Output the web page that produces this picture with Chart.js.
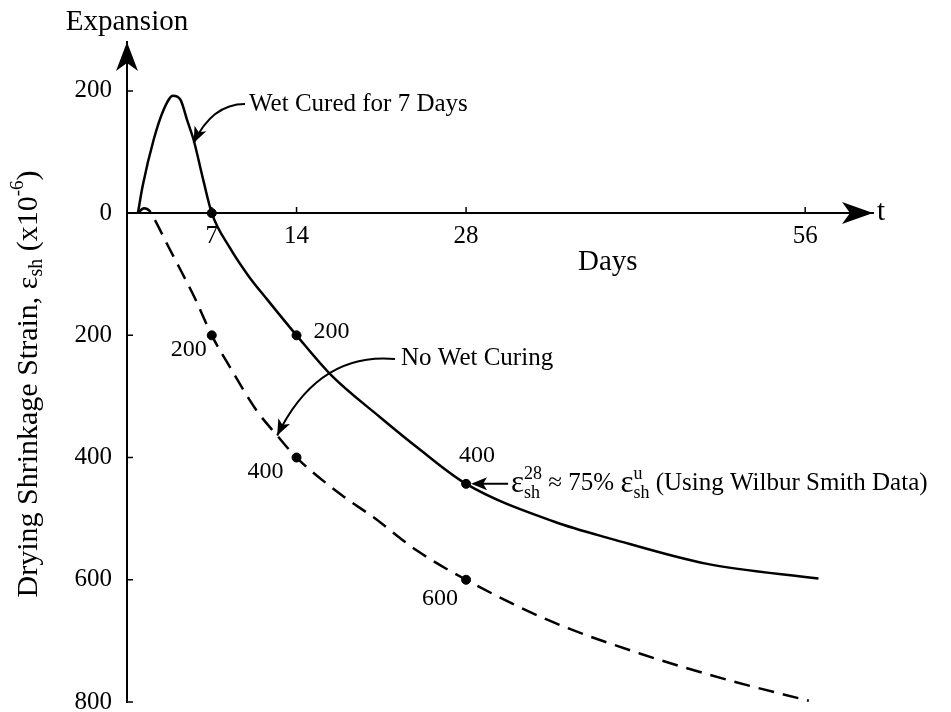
<!DOCTYPE html>
<html>
<head>
<meta charset="utf-8">
<script src="https://cdn.jsdelivr.net/npm/chart.js@4.4.1/dist/chart.umd.min.js"></script>
<style>
  html, body { margin: 0; padding: 0; background: #fff; }
</style>
</head>
<body>
<canvas id="chart" width="951" height="712"></canvas>
<script>
// Wet cured for 7 days (solid curve)
const wetDays   = [0.9, 1.3, 2.2, 3.0, 3.8, 4.4, 5.0, 5.5, 6.3, 7, 8.5, 10, 11.6, 14, 16.9, 20.9, 24, 28, 35.3, 40, 47.9, 57.1];
const wetStrain = [0, 45, 120, 168, 192, 186, 150, 120, 54, 0, -57, -102, -142, -200, -266, -334, -384, -443, -505, -533, -574, -598];

// No wet curing (dashed curve)
const dryDays   = [0.9, 1.4, 1.9, 2.3, 3.5, 4.5, 5.6, 7, 8.5, 10.7, 12.4, 14, 17.9, 20.3, 24, 28, 34.9, 42.4, 50, 56.3];
const dryStrain = [0, 8, 3, -11, -58, -96, -139, -200, -252, -323, -364, -400, -464, -497, -553, -600, -667, -721, -766, -798];

// marked points and their labels
const wetDotDays = [7, 14, 28];
const wetDotStrain = [0, -200, -443];
const wetDotLabels = ["", "200", "400"];
const dryDotDays = [7, 14, 28];
const dryDotStrain = [-200, -400, -600];
const dryDotLabels = ["200", "400", "600"];

// axis ticks
const dayTicks = [7, 14, 28, 56];
const strainTicks = [200, 0, -200, -400, -600, -800];

const FONT = "'Liberation Serif', 'Times New Roman', serif";
Chart.defaults.font.family = FONT;
Chart.defaults.color = "#000";

const toXY = (xs, ys) => xs.map((x, i) => ({ x: x, y: ys[i] }));

function arrowHead(ctx, tx, ty, ang, len, half, notch) {
    const dx = Math.cos(ang), dy = Math.sin(ang);
    const px = -dy, py = dx;
    ctx.beginPath();
    ctx.moveTo(tx, ty);
    ctx.lineTo(tx - len * dx + half * px, ty - len * dy + half * py);
    ctx.lineTo(tx - (len - notch) * dx, ty - (len - notch) * dy);
    ctx.lineTo(tx - len * dx - half * px, ty - len * dy - half * py);
    ctx.closePath();
    ctx.fill();
}

function curvedArrow(ctx, x0, y0, cx, cy, x1, y1) {
    ctx.beginPath();
    ctx.moveTo(x0, y0);
    ctx.quadraticCurveTo(cx, cy, x1, y1);
    ctx.stroke();
    arrowHead(ctx, x1, y1, Math.atan2(y1 - cy, x1 - cx), 16, 6.5, 4);
}

// draws pieces of text with sub/superscripts, left to right
function richText(ctx, x, y, parts) {
    ctx.textBaseline = "middle";
    ctx.textAlign = "left";
    for (const p of parts) {
        if (p.stack) {
            let w = 0;
            for (const s of p.stack) {
                ctx.font = s.size + "px " + FONT;
                ctx.fillText(s.t, x, y + s.dy);
                w = Math.max(w, ctx.measureText(s.t).width);
            }
            x += w;
        } else {
            ctx.font = p.size + "px " + FONT;
            ctx.fillText(p.t, x, y + (p.dy || 0));
            x += ctx.measureText(p.t).width;
        }
    }
    return x;
}

function richWidth(ctx, parts) {
    let w = 0;
    for (const p of parts) {
        if (p.stack) {
            let m = 0;
            for (const s of p.stack) {
                ctx.font = s.size + "px " + FONT;
                m = Math.max(m, ctx.measureText(s.t).width);
            }
            w += m;
        } else {
            ctx.font = p.size + "px " + FONT;
            w += ctx.measureText(p.t).width;
        }
    }
    return w;
}

const annotate = {
    id: "annotate",
    afterDraw(chart) {
        const ctx = chart.ctx;
        const xs = chart.scales.x, ys = chart.scales.y;
        const area = chart.chartArea;
        const x0 = xs.getPixelForValue(0), y0 = ys.getPixelForValue(0);
        ctx.save();
        ctx.fillStyle = "#000";
        ctx.strokeStyle = "#000";

        // axis arrows
        arrowHead(ctx, x0, area.top, -Math.PI / 2, 29, 11, 8);
        arrowHead(ctx, area.right, y0, 0, 31, 11, 8);

        // inward tick marks
        ctx.lineWidth = 1.5;
        ctx.beginPath();
        dayTicks.forEach(d => {
            const px = xs.getPixelForValue(d);
            ctx.moveTo(px, y0);
            ctx.lineTo(px, y0 - 6);
        });
        strainTicks.forEach(v => {
            const py = ys.getPixelForValue(v);
            ctx.moveTo(x0, py);
            ctx.lineTo(x0 + 6, py);
        });
        ctx.stroke();

        // axis captions
        ctx.textBaseline = "middle";
        ctx.textAlign = "center";
        ctx.font = "29px " + FONT;
        ctx.fillText("Expansion", x0, 22);
        ctx.fillText("Days", xs.getPixelForValue(39.7), y0 + 49);
        ctx.textAlign = "left";
        ctx.fillText("t", area.right + 4, y0 - 1);

        // y title, rotated
        const yTitle = [
            { t: "Drying Shrinkage Strain, ε", size: 30 },
            { t: "sh", size: 20, dy: 8 },
            { t: " (x10", size: 30 },
            { t: "-6", size: 19, dy: -11 },
            { t: ")", size: 30 }
        ];
        ctx.save();
        ctx.translate(29, 384);
        ctx.rotate(-Math.PI / 2);
        richText(ctx, -richWidth(ctx, yTitle) / 2, 0, yTitle);
        ctx.restore();

        // dot labels
        ctx.font = "24px " + FONT;
        ctx.textBaseline = "middle";
        const wetOff = [[0, 0], [17, -4], [-7, -28]];
        wetDotLabels.forEach((s, i) => {
            if (!s) return;
            ctx.textAlign = "left";
            ctx.fillText(s, xs.getPixelForValue(wetDotDays[i]) + wetOff[i][0], ys.getPixelForValue(wetDotStrain[i]) + wetOff[i][1]);
        });
        const dryOff = [[-5, 14], [-13, 14], [-8, 19]];
        dryDotLabels.forEach((s, i) => {
            ctx.textAlign = "right";
            ctx.fillText(s, xs.getPixelForValue(dryDotDays[i]) + dryOff[i][0], ys.getPixelForValue(dryDotStrain[i]) + dryOff[i][1]);
        });

        // callouts
        ctx.lineWidth = 2;
        ctx.font = "25px " + FONT;
        ctx.textAlign = "left";
        ctx.fillText("Wet Cured for 7 Days", 249, 104);
        curvedArrow(ctx, 245, 104, 212, 104, xs.getPixelForValue(5.5), ys.getPixelForValue(118) + 2);

        ctx.fillText("No Wet Curing", 401, 358);
        curvedArrow(ctx, 395, 359, 318, 352, xs.getPixelForValue(12.4), ys.getPixelForValue(-364));

        const dx = xs.getPixelForValue(28), dy = ys.getPixelForValue(-443);
        ctx.beginPath();
        ctx.moveTo(dx + 42, dy);
        ctx.lineTo(dx + 10, dy);
        ctx.stroke();
        arrowHead(ctx, dx + 5, dy, Math.PI, 16, 6.5, 4);
        richText(ctx, dx + 45, dy, [
            { t: "ε", size: 31 },
            { stack: [{ t: "28", size: 18, dy: -10 }, { t: "sh", size: 18, dy: 9 }] },
            { t: " ≈ 75% ", size: 25 },
            { t: "ε", size: 31 },
            { stack: [{ t: "u", size: 18, dy: -10 }, { t: "sh", size: 18, dy: 9 }] },
            { t: " (Using Wilbur Smith Data)", size: 25 }
        ]);
        ctx.restore();
    }
};

const ctx = document.getElementById("chart").getContext("2d");
new Chart(ctx, {
    type: "line",
    data: {
        datasets: [
            {
                label: "Wet Cured for 7 Days",
                data: toXY(wetDays, wetStrain),
                borderColor: "#000",
                borderWidth: 2.5,
                pointRadius: 0,
                cubicInterpolationMode: "monotone",
                fill: false
            },
            {
                label: "No Wet Curing",
                data: toXY(dryDays, dryStrain),
                borderColor: "#000",
                borderWidth: 2.5,
                borderDash: [16, 9],
                pointRadius: 0,
                cubicInterpolationMode: "monotone",
                fill: false
            },
            {
                type: "scatter",
                data: toXY(wetDotDays, wetDotStrain),
                pointRadius: 4.5,
                backgroundColor: "#000",
                borderColor: "#000",
                showLine: false
            },
            {
                type: "scatter",
                data: toXY(dryDotDays, dryDotStrain),
                pointRadius: 4.5,
                backgroundColor: "#000",
                borderColor: "#000",
                showLine: false
            }
        ]
    },
    options: {
        responsive: false,
        animation: false,
        devicePixelRatio: 1,
        layout: { padding: { top: 42, right: 78, bottom: 10, left: 0 } },
        plugins: { legend: { display: false }, tooltip: { enabled: false } },
        scales: {
            x: {
                type: "linear",
                min: 0,
                max: 61.6,
                position: { y: 0 },
                grid: { display: false, drawTicks: true, tickLength: 8 },
                border: { display: true, color: "#000", width: 2 },
                ticks: { font: { size: 25 }, padding: 0, autoSkip: false, maxRotation: 0 },
                afterBuildTicks: s => { s.ticks = dayTicks.map(v => ({ value: v })); },
                afterFit: s => { s.paddingLeft = 0; s.paddingRight = 0; }
            },
            y: {
                type: "linear",
                min: -800,
                max: 280,
                grid: { display: false, drawTicks: false },
                border: { display: true, color: "#000", width: 2 },
                ticks: { font: { size: 25 }, padding: 15, callback: v => Math.abs(v) },
                afterBuildTicks: s => { s.ticks = strainTicks.map(v => ({ value: v })); },
                afterFit: s => { s.width = 127; s.paddingTop = 0; s.paddingBottom = 0; }
            }
        }
    },
    plugins: [annotate]
});
</script>
</body>
</html>
